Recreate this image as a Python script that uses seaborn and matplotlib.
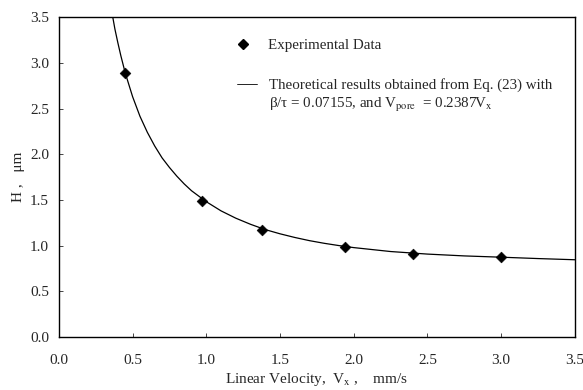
import pandas as pd
import matplotlib
matplotlib.use("Agg")
import matplotlib.pyplot as plt
from matplotlib.lines import Line2D
import seaborn as sns

# experimental points
exp_v = [0.45, 0.97, 1.38, 1.94, 2.40, 3.00]
exp_h = [2.89, 1.49, 1.17, 0.99, 0.91, 0.875]

# theoretical curve
curve_v = [0.36, 0.38, 0.40, 0.42, 0.45, 0.50, 0.55, 0.60, 0.65, 0.70,
           0.75, 0.80, 0.85, 0.90, 0.95, 1.00, 1.10, 1.20, 1.30, 1.40,
           1.50, 1.60, 1.70, 1.80, 1.90, 2.00, 2.25, 2.50, 2.75, 3.00,
           3.25, 3.50]
curve_h = [3.55, 3.37, 3.22, 3.08, 2.89, 2.63, 2.415, 2.24, 2.09, 1.96,
           1.855, 1.76, 1.675, 1.60, 1.54, 1.48, 1.38, 1.30, 1.233, 1.175,
           1.129, 1.089, 1.054, 1.025, 1.00, 0.978, 0.935, 0.907, 0.887, 0.873,
           0.858, 0.845]

xticks = [0.0, 0.5, 1.0, 1.5, 2.0, 2.5, 3.0, 3.5]
yticks = [0.0, 0.5, 1.0, 1.5, 2.0, 2.5, 3.0, 3.5]

exp_df = pd.DataFrame({"v": exp_v, "h": exp_h})
curve_df = pd.DataFrame({"v": curve_v, "h": curve_h})

sns.set_style("ticks")
plt.rcParams["font.family"] = ["Liberation Serif", "DejaVu Serif"]
plt.rcParams["mathtext.fontset"] = "stix"

fig = plt.figure(figsize=(5.83, 3.90), dpi=100)
ax = fig.add_axes([0.101, 0.136, 0.885, 0.820])

sns.lineplot(data=curve_df, x="v", y="h", ax=ax, color="black", lw=0.9,
             sort=False, legend=False)
sns.scatterplot(data=exp_df, x="v", y="h", ax=ax, marker="D", s=30,
                color="black", edgecolor="black", zorder=3, legend=False)

ax.set_xlim(0, 3.5)
ax.set_ylim(0, 3.5)
ax.set_xticks(xticks)
ax.set_yticks(yticks)
ax.set_xticklabels([f"{t:.1f}" for t in xticks])
ax.set_yticklabels([f"{t:.1f}" for t in yticks])
ax.tick_params(direction="in", length=3, width=0.6, labelsize=11)
ax.tick_params(axis="x", pad=12)
ax.tick_params(axis="y", pad=7)
for s in ax.spines.values():
    s.set_visible(True)
    s.set_linewidth(1.0)
    s.set_color("black")

ax.set_xlabel("Linear Velocity,  V$_{\\rm x}$ ,    mm/s", fontsize=11, labelpad=3)
ax.set_ylabel("H ,   \u03bcm", fontsize=11, labelpad=4)

# legend
fs = 10.8
h_exp = Line2D([], [], ls="none", marker="D", ms=5.5, color="black")
leg1 = ax.legend([h_exp], ["Experimental Data"], loc="center left",
                 bbox_to_anchor=(0.337, 0.9125), frameon=False, fontsize=fs,
                 handlelength=1.37, handletextpad=1.0, borderpad=0,
                 borderaxespad=0)
ax.add_artist(leg1)
h_line = Line2D([], [], color="black", lw=0.6)
h_none = Line2D([], [], ls="none")
ax.legend([h_line, h_none],
          ["Theoretical results obtained from Eq. (23) with",
           "\u03b2/\u03c4 = 0.07155, and V$_{\\rm pore}$  = 0.2387V$_{\\rm x}$"],
          loc="center left", bbox_to_anchor=(0.345, 0.753), frameon=False,
          fontsize=fs, handlelength=1.37, handletextpad=0.75, borderpad=0,
          borderaxespad=0, labelspacing=0.25)

fig.savefig("out.png", dpi=100)
